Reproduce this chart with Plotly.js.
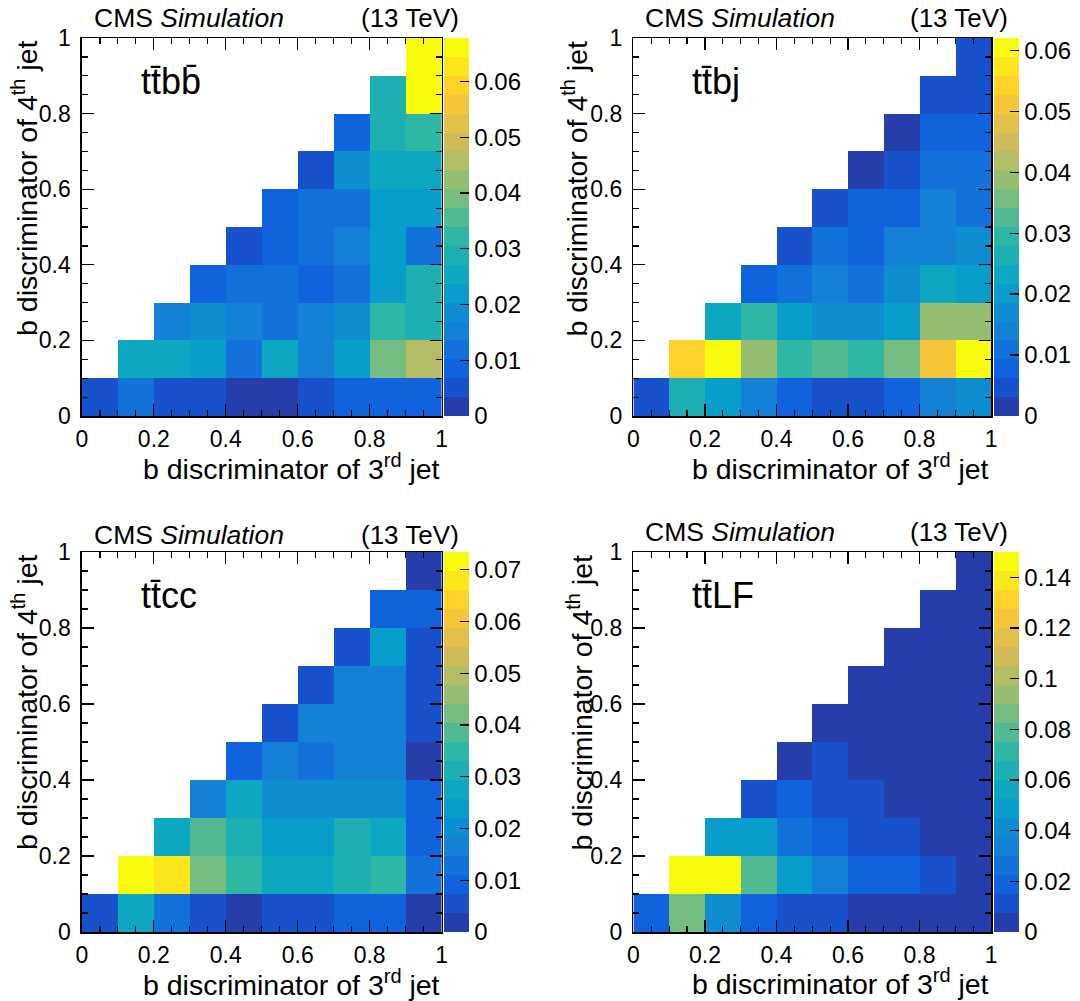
<!DOCTYPE html>
<html>
<head>
<meta charset="utf-8">
<script src="https://cdn.plot.ly/plotly-3.0.1.min.js"></script>
<style>
  html, body { margin: 0; padding: 0; background: #fff; }
  #chart { width: 1080px; height: 1001px; }
</style>
</head>
<body>
<div id="chart"></div>
<script>
// ---------------- DATA ----------------
// bin centres of the b-discriminator of the 3rd jet (x) and 4th jet (y)
const binCenters = [0.05, 0.15, 0.25, 0.35, 0.45, 0.55, 0.65, 0.75, 0.85, 0.95];
const axisTicks = [0, 0.2, 0.4, 0.6, 0.8, 1];

const processLabels = ["tt\u0304bb\u0304", "tt\u0304bj", "tt\u0304cc", "tt\u0304LF"];
const zMaxValues = [0.0678, 0.062, 0.0734, 0.150];
const colorbarSteps = [0.01, 0.01, 0.01, 0.02];

// rows: y bin index 0..9 (bottom to top), columns: x bin index 0..9
const ttbb = [
  [0.005, 0.012, 0.005, 0.005, 0.002, 0.002, 0.005, 0.0085, 0.0085, 0.0085],
  [null, 0.0255, 0.0255, 0.022, 0.012, 0.0255, 0.015, 0.022, 0.039, 0.046],
  [null, null, 0.015, 0.019, 0.015, 0.012, 0.015, 0.019, 0.032, 0.029],
  [null, null, null, 0.0085, 0.012, 0.012, 0.0085, 0.012, 0.022, 0.029],
  [null, null, null, null, 0.005, 0.0085, 0.012, 0.015, 0.022, 0.012],
  [null, null, null, null, null, 0.0085, 0.012, 0.012, 0.022, 0.022],
  [null, null, null, null, null, null, 0.005, 0.019, 0.0255, 0.0255],
  [null, null, null, null, null, null, null, 0.0085, 0.029, 0.032],
  [null, null, null, null, null, null, null, null, 0.029, 0.066],
  [null, null, null, null, null, null, null, null, null, 0.066]
];
const ttbj = [
  [0.0047, 0.0264, 0.020, 0.014, 0.0078, 0.0047, 0.0047, 0.0078, 0.014, 0.017],
  [null, 0.0543, 0.0605, 0.0388, 0.0295, 0.0326, 0.0295, 0.0357, 0.0512, 0.0605],
  [null, null, 0.0233, 0.0295, 0.020, 0.017, 0.017, 0.020, 0.0388, 0.0388],
  [null, null, null, 0.0078, 0.011, 0.014, 0.011, 0.017, 0.0233, 0.020],
  [null, null, null, null, 0.0047, 0.011, 0.0078, 0.014, 0.014, 0.017],
  [null, null, null, null, null, 0.0047, 0.0078, 0.0078, 0.014, 0.011],
  [null, null, null, null, null, null, 0.0016, 0.0047, 0.011, 0.011],
  [null, null, null, null, null, null, null, 0.0016, 0.0078, 0.0078],
  [null, null, null, null, null, null, null, null, 0.0047, 0.0047],
  [null, null, null, null, null, null, null, null, null, 0.0047]
];
const ttcc = [
  [0.0055, 0.0275, 0.0128, 0.0055, 0.0018, 0.0055, 0.0055, 0.0092, 0.0092, 0.0018],
  [null, 0.0716, 0.0679, 0.0422, 0.0349, 0.0275, 0.0275, 0.0312, 0.0349, 0.0128],
  [null, null, 0.0275, 0.0385, 0.0312, 0.0239, 0.0239, 0.0312, 0.0275, 0.0092],
  [null, null, null, 0.0165, 0.0275, 0.0202, 0.0202, 0.0202, 0.0202, 0.0092],
  [null, null, null, null, 0.0092, 0.0165, 0.0128, 0.0165, 0.0165, 0.0018],
  [null, null, null, null, null, 0.0055, 0.0165, 0.0165, 0.0165, 0.0055],
  [null, null, null, null, null, null, 0.0055, 0.0165, 0.0165, 0.0055],
  [null, null, null, null, null, null, null, 0.0055, 0.0239, 0.0055],
  [null, null, null, null, null, null, null, null, 0.0092, 0.0092],
  [null, null, null, null, null, null, null, null, null, 0.0018]
];
const ttLF = [
  [0.019, 0.086, 0.041, 0.019, 0.011, 0.011, 0.0037, 0.0037, 0.0037, 0.0037],
  [null, 0.146, 0.146, 0.079, 0.049, 0.034, 0.019, 0.019, 0.011, 0.0037],
  [null, null, 0.049, 0.049, 0.026, 0.019, 0.011, 0.011, 0.0037, 0.0037],
  [null, null, null, 0.011, 0.019, 0.011, 0.011, 0.0037, 0.0037, 0.0037],
  [null, null, null, null, 0.0037, 0.011, 0.0037, 0.0037, 0.0037, 0.0037],
  [null, null, null, null, null, 0.0037, 0.0037, 0.0037, 0.0037, 0.0037],
  [null, null, null, null, null, null, 0.0037, 0.0037, 0.0037, 0.0037],
  [null, null, null, null, null, null, null, 0.0037, 0.0037, 0.0037],
  [null, null, null, null, null, null, null, null, 0.0037, 0.0037],
  [null, null, null, null, null, null, null, null, null, 0.0037]
];
const panelValues = [ttbb, ttbj, ttcc, ttLF];

// ---------------- STYLE ----------------
const FONT = "Liberation Sans, Arial, Helvetica, sans-serif";
const W = 1080, H = 1001;

// ROOT kBird palette, 20 contour levels
const birdStops = [0, 0.125, 0.25, 0.375, 0.5, 0.625, 0.75, 0.875, 1];
const birdR = [0.2082, 0.0592, 0.0780, 0.0232, 0.1802, 0.5301, 0.8186, 0.9956, 0.9764];
const birdG = [0.1664, 0.3599, 0.5041, 0.6419, 0.7178, 0.7492, 0.7328, 0.7862, 0.9832];
const birdB = [0.5293, 0.8684, 0.8385, 0.7914, 0.6425, 0.4662, 0.3499, 0.1968, 0.0539];
function bird(f) {
  f = Math.max(0, Math.min(1, f));
  let k = 0;
  while (k < birdStops.length - 2 && f > birdStops[k + 1]) k++;
  const t = (f - birdStops[k]) / (birdStops[k + 1] - birdStops[k]);
  const c = a => Math.round(255 * (a[k] + t * (a[k + 1] - a[k])));
  return `rgb(${c(birdR)},${c(birdG)},${c(birdB)})`;
}
const NLEV = 20;
const colorscale = [];
for (let i = 0; i < NLEV; i++) {
  const col = bird((i + 0.99) / NLEV);
  colorscale.push([i / NLEV, col]);
  colorscale.push([(i + 1) / NLEV, col]);
}

// panel geometry in pixels: [left, right, top, bottom]
const plotPx = [
  [82, 442, 38, 416],
  [634, 992, 38, 416],
  [82, 442, 552, 932],
  [634, 992, 552, 932]
];
// per-panel offsets of the axis titles and header (pixels)
const xTitleOffset = [51, 51, 51, 50];
const yTitleOffset = [57, 58, 57, 53];
const headerOffset = [20, 20, 17, 20];
const px2x = p => p / W;
const px2y = p => (H - p) / H;

const traces = [];
const layout = {
  width: W, height: H,
  margin: {l: 0, r: 0, t: 0, b: 0},
  paper_bgcolor: "#fff", plot_bgcolor: "#fff",
  showlegend: false,
  font: {family: FONT, color: "#000"},
  annotations: []
};

for (let p = 0; p < 4; p++) {
  const [L, R, T, B] = plotPx[p];
  const ax = p === 0 ? "" : String(p + 1);
  traces.push({
    type: "heatmap",
    x: binCenters, y: binCenters, z: panelValues[p],
    xaxis: "x" + ax, yaxis: "y" + ax,
    zmin: 0, zmax: zMaxValues[p],
    zsmooth: false,
    colorscale: colorscale,
    hoverongaps: false,
    colorbar: {
      x: px2x(R + 2), xanchor: "left",
      y: px2y((T + B) / 2), yanchor: "middle",
      len: B - T, lenmode: "pixels",
      thickness: 25, thicknessmode: "pixels",
      xpad: 0, ypad: 0,
      outlinewidth: 0,
      ticks: "inside", ticklen: 9, tickwidth: 1.2, tickcolor: "#000",
      tickmode: "linear", tick0: 0, dtick: colorbarSteps[p],
      tickfont: {family: FONT, size: 24, color: "#000"}
    }
  });
  const common = {
    range: [0, 1], autorange: false,
    tickmode: "array", tickvals: axisTicks,
    ticktext: axisTicks.map(v => String(v)),
    ticks: "inside", ticklen: 12, tickwidth: 1.2, tickcolor: "#000",
    minor: {dtick: 0.05, ticks: "inside", ticklen: 6, tickwidth: 1.2, tickcolor: "#000"},
    showline: true, linecolor: "#000", linewidth: 1.5, mirror: "allticks",
    showgrid: false, zeroline: false,
    tickfont: {family: FONT, size: 23, color: "#000"},
    layer: "above traces"
  };
  layout["xaxis" + ax] = Object.assign({}, common, {
    domain: [px2x(L), px2x(R)], anchor: "y" + ax, ticklabelstandoff: 2
  });
  layout["yaxis" + ax] = Object.assign({}, common, {
    domain: [px2y(B), px2y(T)], anchor: "x" + ax, ticklabelstandoff: 5
  });

  const ann = layout.annotations;
  // CMS Simulation
  ann.push({xref: "paper", yref: "paper", x: px2x(L + 10), y: px2y(T - headerOffset[p]),
    xanchor: "left", yanchor: "middle", showarrow: false,
    text: "CMS <i>Simulation</i>", font: {family: FONT, size: 26.5, color: "#000"}});
  // (13 TeV)
  ann.push({xref: "paper", yref: "paper", x: px2x(R + 19), y: px2y(T - headerOffset[p]),
    xanchor: "right", yanchor: "middle", showarrow: false,
    text: "(13 TeV)", font: {family: FONT, size: 26, color: "#000"}});
  // process label
  ann.push({xref: "paper", yref: "paper", x: px2x(L + 57), y: px2y(T + 43),
    xanchor: "left", yanchor: "middle", showarrow: false,
    text: processLabels[p], font: {family: FONT, size: 36, color: "#000"}});
  // x title
  ann.push({xref: "paper", yref: "paper", x: px2x(R), y: px2y(B + xTitleOffset[p]),
    xanchor: "right", yanchor: "middle", showarrow: false,
    text: "b discriminator of 3<sup>rd</sup> jet", font: {family: FONT, size: 28.5, color: "#000"}});
  // y title
  ann.push({xref: "paper", yref: "paper", x: px2x(L - yTitleOffset[p]), y: px2y(T),
    xanchor: "center", yanchor: "top", showarrow: false, textangle: -90,
    text: "b discriminator of 4<sup>th</sup> jet", font: {family: FONT, size: 28.5, color: "#000"}});
}

Plotly.newPlot("chart", traces, layout, {staticPlot: true, displayModeBar: false});
</script>
</body>
</html>
